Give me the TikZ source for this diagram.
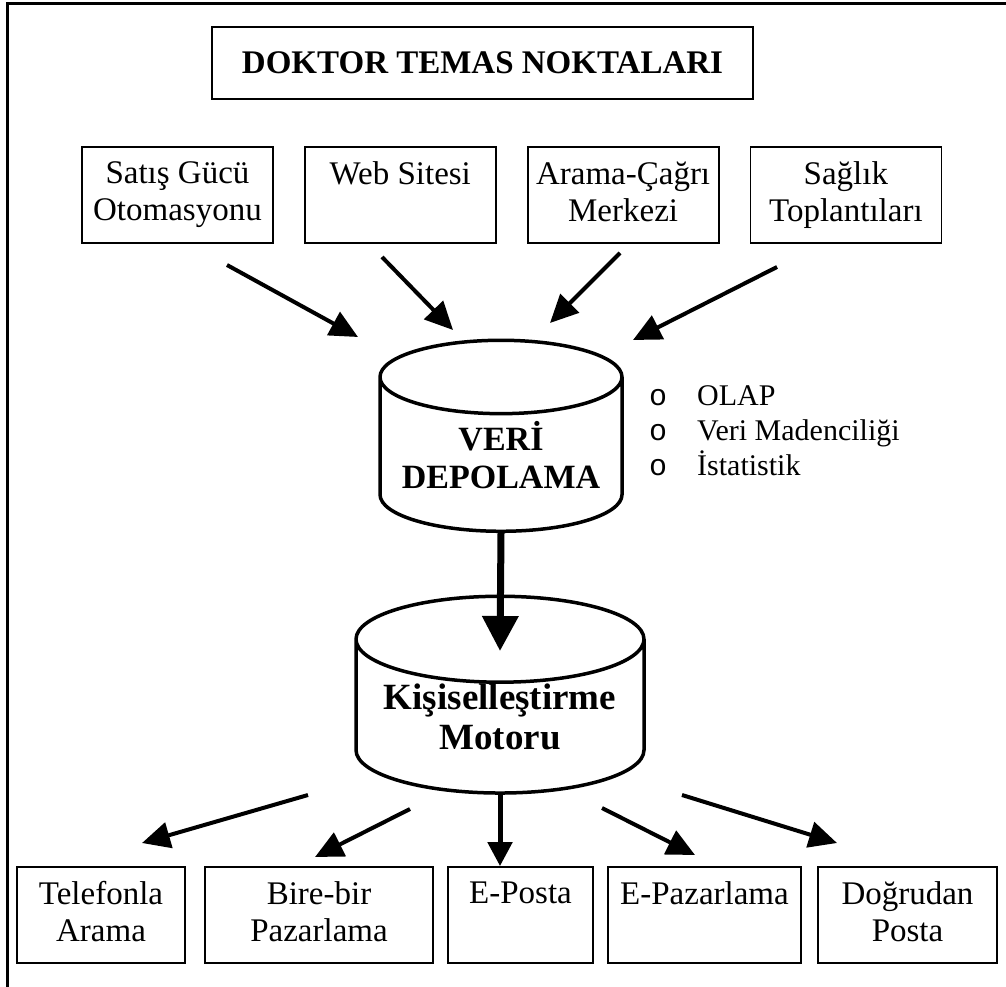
\documentclass[tikz,border=0pt]{standalone}
\usepackage{fontspec}
\setmainfont{Liberation Serif}
\newfontfamily\bulletfont{Liberation Mono}
\usetikzlibrary{shapes.geometric, positioning, arrows.meta, calc}

\begin{document}
\begin{tikzpicture}[x=1pt, y=-1pt, node distance=30pt,
		box/.style={draw, line width=1.8pt, align=center, inner sep=0pt, minimum height=96pt, font=\fontsize{33}{37}\selectfont, execute at begin node=\rule{0pt}{30pt}, execute at end node=\rule[-7pt]{0pt}{7pt}},
		title/.style={draw, line width=1.8pt, minimum width=541pt, minimum height=72pt, font=\bfseries\fontsize{33}{38}\selectfont},
		db/.style={cylinder, shape border rotate=90, draw, line width=3.5pt, aspect=0.37, align=center, inner sep=0pt, font=\bfseries\fontsize{34}{38}\selectfont},
		inarrow/.style={line width=4pt, -{Triangle[length=28pt, width=26pt]}},
		downarrow/.style={line width=5pt, -{Triangle[length=24pt, width=24pt]}},
		bigarrow/.style={line width=7pt, -{Triangle[length=35pt, width=35pt]}}]
		\useasboundingbox (0,0) rectangle (1006,987);
		\draw[line width=3pt] (7.5,987) -- (7.5,3.5) -- (1006,3.5);
		\node[title] (baslik) at (482.5,63) {DOKTOR TEMAS NOKTALARI};
		\node[box, minimum width=191pt] (satis) at (177.5,195) {Satış Gücü\\Otomasyonu};
		\node[box, minimum width=191pt, right=of satis] (web) {Web Sitesi\\~};
		\node[box, minimum width=191pt, right=of web] (cagri) {Arama-Çağrı\\Merkezi};
		\node[box, minimum width=191pt, right=of cagri] (saglik) {Sağlık\\Toplantıları};
		\node[db, minimum width=242pt, minimum height=191pt] (veri) at (501,455) {VERİ\\DEPOLAMA};
		\node[anchor=base west, inner sep=0pt, font=\fontsize{30}{35}\selectfont] (yontem) at (649,405) {\begin{tabular}[t]{@{}l@{\hspace{30pt}}l@{}}
				{\bulletfont o} & OLAP\\
				{\bulletfont o} & Veri Madenciliği\\
				{\bulletfont o} & İstatistik
			\end{tabular}};
		\node[db, minimum width=288pt, minimum height=193pt, font=\bfseries\fontsize{37}{40}\selectfont] (kisi) at (500,717) {Kişiselleştirme\\Motoru};
		\node[box, minimum width=168pt] (telefon) at (101,915) {Telefonla\\Arama};
		\node[box, minimum width=228pt] (birebir) at (319,915) {Bire-bir\\Pazarlama};
		\node[box, minimum width=145pt] (eposta) at (520.5,915) {E-Posta\\~};
		\node[box, minimum width=193pt] (epazar) at (704.5,915) {E-Pazarlama\\~};
		\node[box, minimum width=179pt] (dogrudan) at (907.5,915) {Doğrudan\\Posta};
		\coordinate (g1) at (227,265); \coordinate (h1) at (358,337);
		\coordinate (g2) at (382,257); \coordinate (h2) at (453,330);
		\coordinate (g3) at (620,253); \coordinate (h3) at (550,323);
		\coordinate (g4) at (777,267); \coordinate (h4) at (633,340);
		\coordinate (c1) at (308,795); \coordinate (d1) at (142,843);
		\coordinate (c2) at (410,809); \coordinate (d2) at (315,857);
		\coordinate (c3) at (602,808); \coordinate (d3) at (695,855);
		\coordinate (c4) at (682,795); \coordinate (d4) at (837,843);
		\coordinate (kisiust) at (500,651);
		\foreach \i in {1,...,4} {
			\draw[inarrow] (g\i) -- (h\i);
			\draw[inarrow] (c\i) -- (d\i);
		}
		\draw[bigarrow] (veri.bottom) -- (kisiust);
		\draw[downarrow] (kisi.bottom) -- (kisi.bottom |- eposta.north);
	\end{tikzpicture}
\end{document}
